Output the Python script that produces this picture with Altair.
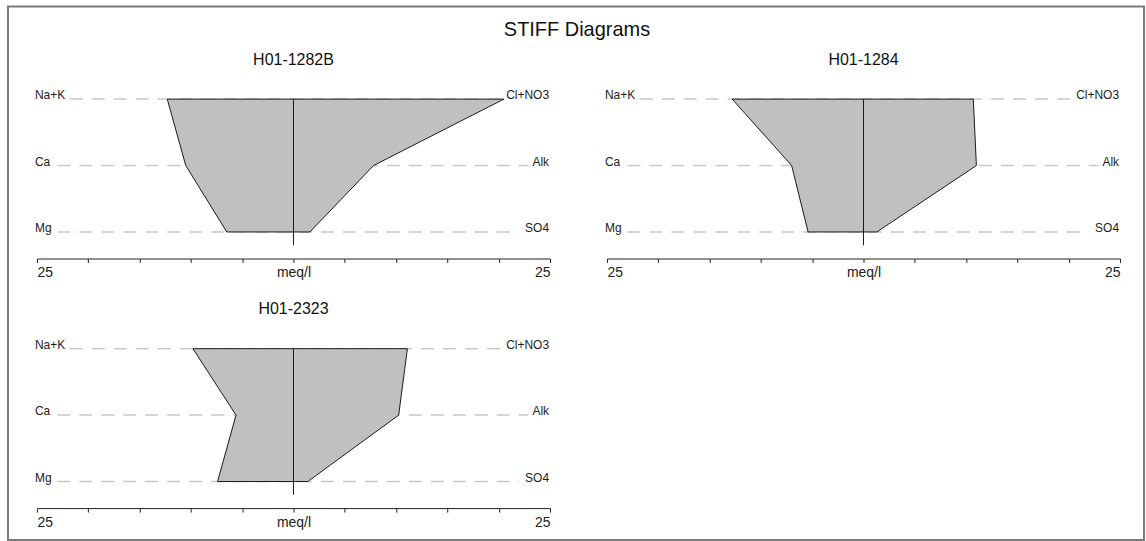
import altair as alt
import pandas as pd

# Ion rows of a Stiff diagram: cations on the left, anions on the right
cations = ["Na+K", "Ca", "Mg"]
anions = ["Cl+NO3", "Alk", "SO4"]
row_level = [3, 2, 1]

samples = ["H01-1282B", "H01-1284", "H01-2323"]

# Concentrations in meq/l
cation_meq = {
    "H01-1282B": [12.3, 10.5, 6.5],
    "H01-1284": [12.8, 7.0, 5.4],
    "H01-2323": [9.8, 5.6, 7.4],
}
anion_meq = {
    "H01-1282B": [20.5, 7.8, 1.6],
    "H01-1284": [10.7, 11.0, 1.3],
    "H01-2323": [11.1, 10.25, 1.4],
}

# Extent of the dashed guide line on each row (meq/l), between the row labels
guide_from = [-21.8, -23.0, -23.0]
guide_to = [20.6, 22.9, 22.0]

FONT = "Liberation Sans"
PANEL_W = 514
PANEL_H = 171
GAP_X = 57
GAP_Y = 79

x_scale = alt.Scale(domain=[-25, 25], nice=False, zero=False)
y_scale = alt.Scale(domain=[0.6, 3.17], nice=False, zero=False)

x_axis = alt.Axis(
    values=list(range(-25, 26, 5)),
    labelExpr="datum.value == 0 ? 'meq/l' : (abs(datum.value) == 25 ? '25' : '')",
    labelFlush=True,
    labelOverlap=False,
    tickSize=4,
    domainColor="#222222",
    tickColor="#222222",
    labelColor="#222222",
    labelFontSize=14,
    labelFont=FONT,
    labelPadding=3,
    grid=False,
    title=None,
)


def panel(name):
    rows = pd.DataFrame({
        "cation": cations,
        "anion": anions,
        "level": row_level,
        "left": [-v for v in cation_meq[name]],
        "right": anion_meq[name],
        "g_from": guide_from,
        "g_to": guide_to,
    })

    guides = alt.Chart(rows).mark_rule(
        color="#c8c8c8", strokeWidth=1.5, strokeDash=[13, 9]
    ).encode(
        x=alt.X("g_from:Q", scale=x_scale, axis=x_axis),
        x2="g_to:Q",
        y=alt.Y("level:Q", scale=y_scale, axis=None),
    )

    shape = alt.Chart(rows).mark_area(
        orient="horizontal", fill="#c0c0c0", stroke="#1a1a1a", strokeWidth=1,
        opacity=1,
    ).encode(
        x=alt.X("left:Q", scale=x_scale, axis=x_axis),
        x2="right:Q",
        y=alt.Y("level:Q", scale=y_scale, axis=None),
    )

    axis_line = alt.Chart(pd.DataFrame({"x": [0], "top": [3], "bottom": [0.8]})).mark_rule(
        color="#1a1a1a", strokeWidth=1
    ).encode(
        x=alt.X("x:Q", scale=x_scale, axis=x_axis),
        y=alt.Y("top:Q", scale=y_scale, axis=None),
        y2="bottom:Q",
    )

    left_labels = alt.Chart(rows).transform_calculate(edge="-25").mark_text(
        align="left", baseline="alphabetic", fontSize=12, font=FONT,
        color="#222222", dx=-2,
    ).encode(
        x=alt.X("edge:Q", scale=x_scale, axis=x_axis),
        y=alt.Y("level:Q", scale=y_scale, axis=None),
        text="cation:N",
    )

    right_labels = alt.Chart(rows).transform_calculate(edge="25").mark_text(
        align="right", baseline="alphabetic", fontSize=12, font=FONT,
        color="#222222", dx=-1,
    ).encode(
        x=alt.X("edge:Q", scale=x_scale, axis=x_axis),
        y=alt.Y("level:Q", scale=y_scale, axis=None),
        text="anion:N",
    )

    return alt.layer(guides, shape, axis_line, left_labels, right_labels).properties(
        width=PANEL_W,
        height=PANEL_H,
        title=alt.TitleParams(
            text=name, fontSize=16, fontWeight="normal", font=FONT,
            color="#111111", anchor="middle", baseline="alphabetic", offset=7,
        ),
    )


# The empty fourth cell carries the outer frame and the overall heading,
# positioned relative to that cell's origin.
ox = PANEL_W + GAP_X + 36
oy = PANEL_H + GAP_Y + 87
frame = alt.Chart(pd.DataFrame({"k": [0]})).mark_rect(
    filled=False, stroke="#7a7a7a", strokeWidth=2
).encode(
    x=alt.value(7 - ox), x2=alt.value(1145 - ox),
    y=alt.value(5.5 - oy), y2=alt.value(540 - oy),
)
heading = alt.Chart(pd.DataFrame({"t": ["STIFF Diagrams"]})).mark_text(
    fontSize=20, font=FONT, color="#111111", align="center",
    baseline="alphabetic",
).encode(
    text="t:N", x=alt.value(577 - ox), y=alt.value(35 - oy),
)
decor = alt.layer(frame, heading).properties(width=PANEL_W, height=PANEL_H)

chart = alt.concat(
    panel(samples[0]),
    panel(samples[1]),
    panel(samples[2]),
    decor,
    columns=2,
    spacing={"row": GAP_Y, "column": GAP_X},
    bounds="flush",
).properties(
    padding={"left": 6, "top": 4.5, "right": 0, "bottom": 0},
    background="white",
).configure_view(stroke="transparent")

chart.save("out.html", embed_options={"renderer": "svg", "actions": False})
